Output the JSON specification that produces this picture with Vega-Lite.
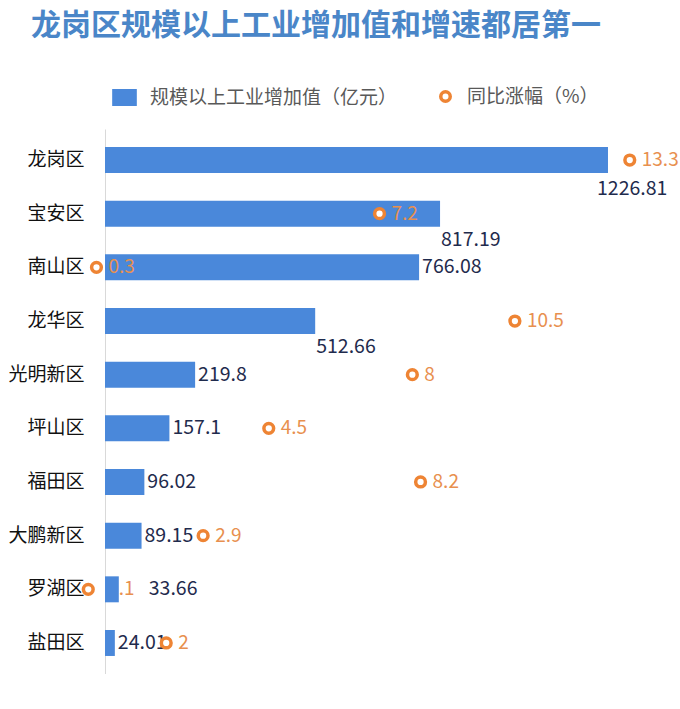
{
  "$schema": "https://vega.github.io/schema/vega-lite/v6.json",
  "width": 574,
  "height": 545,
  "padding": {"left": 7, "top": 11, "right": 0, "bottom": 0},
  "background": "white",
  "title": {
    "text": "龙岗区规模以上工业增加值和增速都居第一",
    "anchor": "start",
    "frame": "bounds",
    "dx": 23,
    "offset": 46,
    "font": "Noto Sans CJK SC",
    "fontSize": 30,
    "fontWeight": "bold",
    "color": "#4A86C8"
  },
  "data": {
    "values": [
      {"district": "龙岗区", "value": 1226.81, "growth": 13.3},
      {"district": "宝安区", "value": 817.19, "growth": 7.2},
      {"district": "南山区", "value": 766.08, "growth": 0.3},
      {"district": "龙华区", "value": 512.66, "growth": 10.5},
      {"district": "光明新区", "value": 219.8, "growth": 8},
      {"district": "坪山区", "value": 157.1, "growth": 4.5},
      {"district": "福田区", "value": 96.02, "growth": 8.2},
      {"district": "大鹏新区", "value": 89.15, "growth": 2.9},
      {"district": "罗湖区", "value": 33.66, "growth": 0.1},
      {"district": "盐田区", "value": 24.01, "growth": 2}
    ]
  },
  "encoding": {
    "y": {
      "field": "district",
      "type": "nominal",
      "sort": null,
      "scale": {
        "domain": ["龙岗区", "宝安区", "南山区", "龙华区", "光明新区", "坪山区", "福田区", "大鹏新区", "罗湖区", "盐田区"],
        "paddingInner": 0.516,
        "paddingOuter": 0.336
      },
      "axis": {
        "title": null,
        "ticks": false,
        "domain": true,
        "domainColor": "#d9d9d9",
        "labelFont": "Noto Sans CJK SC",
        "labelFontSize": 19,
        "labelColor": "#111111",
        "labelPadding": 21
      }
    }
  },
  "layer": [
    {
      "transform": [{"filter": "datum.district === '罗湖区'"}],
      "mark": {"type": "text", "align": "left", "baseline": "middle", "dx": 20, "font": "Noto Sans CJK SC", "fontSize": 19, "color": "#E8904F"},
      "encoding": {
        "x": {"field": "growth", "type": "quantitative", "scale": {"domain": [0.508, 14.5], "zero": false, "nice": false}, "axis": null},
        "text": {"field": "growth", "type": "quantitative"}
      }
    },
    {
      "mark": {"type": "bar", "color": "#4A88DA"},
      "encoding": {
        "x": {"field": "value", "type": "quantitative", "scale": {"domain": [0, 1400], "nice": false}, "axis": null},
        "color": {
          "datum": "规模以上工业增加值（亿元）",
          "scale": {"range": ["#4A88DA"]},
          "legend": {
            "title": null,
            "orient": "none",
            "legendX": 10,
            "legendY": -41,
            "symbolType": "M-1.45,-1H1.45V1H-1.45Z",
            "symbolSize": 289,
            "labelOffset": 16,
            "labelLimit": 0,
            "labelFont": "Noto Sans CJK SC",
            "labelFontSize": 19,
            "labelColor": "#595959"
          }
        }
      }
    },
    {
      "transform": [{"filter": "datum.value < 1000 && datum.district !== '宝安区' && datum.district !== '龙华区' && datum.district !== '罗湖区'"}],
      "mark": {"type": "text", "align": "left", "baseline": "middle", "dx": 3, "font": "Noto Sans CJK SC", "fontSize": 19.5, "color": "#1F2B4D"},
      "encoding": {
        "x": {"field": "value", "type": "quantitative", "scale": {"domain": [0, 1400], "nice": false}, "axis": null},
        "text": {"field": "value", "type": "quantitative", "format": ".2~f"}
      }
    },
    {
      "transform": [{"filter": "datum.district === '罗湖区'"}],
      "mark": {"type": "text", "align": "left", "baseline": "middle", "dx": 30, "font": "Noto Sans CJK SC", "fontSize": 19.5, "color": "#1F2B4D"},
      "encoding": {
        "x": {"field": "value", "type": "quantitative", "scale": {"domain": [0, 1400], "nice": false}, "axis": null},
        "text": {"field": "value", "type": "quantitative", "format": ".2~f"}
      }
    },
    {
      "transform": [{"filter": "datum.district === '宝安区' || datum.district === '龙华区'"}],
      "mark": {"type": "text", "align": "left", "baseline": "middle", "dx": 1, "dy": 26, "font": "Noto Sans CJK SC", "fontSize": 19.5, "color": "#1F2B4D"},
      "encoding": {
        "x": {"field": "value", "type": "quantitative", "scale": {"domain": [0, 1400], "nice": false}, "axis": null},
        "text": {"field": "value", "type": "quantitative", "format": ".2~f"}
      }
    },
    {
      "transform": [{"filter": "datum.value > 1000"}],
      "mark": {"type": "text", "align": "left", "baseline": "middle", "dx": -11, "dy": 29, "font": "Noto Sans CJK SC", "fontSize": 19.5, "color": "#1F2B4D"},
      "encoding": {
        "x": {"field": "value", "type": "quantitative", "scale": {"domain": [0, 1400], "nice": false}, "axis": null},
        "text": {"field": "value", "type": "quantitative", "format": ".2~f"}
      }
    },
    {
      "mark": {"type": "point", "shape": "circle", "filled": false, "fill": "white", "fillOpacity": 1, "strokeWidth": 3.5, "size": 95, "opacity": 1},
      "encoding": {
        "x": {"field": "growth", "type": "quantitative", "scale": {"domain": [0.508, 14.5], "zero": false, "nice": false}, "axis": null},
        "stroke": {
          "datum": "同比涨幅（%）",
          "scale": {"range": ["#EE8434"]},
          "legend": {
            "title": null,
            "orient": "none",
            "legendX": 331,
            "legendY": -42,
            "symbolType": "circle",
            "symbolSize": 90,
            "symbolStrokeWidth": 3.5,
            "symbolFillColor": "white",
            "labelOffset": 12,
            "labelLimit": 0,
            "labelFont": "Noto Sans CJK SC",
            "labelFontSize": 19,
            "labelColor": "#595959"
          }
        }
      }
    },
    {
      "transform": [{"filter": "datum.district !== '罗湖区'"}],
      "mark": {"type": "text", "align": "left", "baseline": "middle", "dx": 12, "font": "Noto Sans CJK SC", "fontSize": 19, "color": "#E8904F"},
      "encoding": {
        "x": {"field": "growth", "type": "quantitative", "scale": {"domain": [0.508, 14.5], "zero": false, "nice": false}, "axis": null},
        "text": {"field": "growth", "type": "quantitative"}
      }
    }
  ],
  "resolve": {"scale": {"x": "independent"}},
  "config": {"view": {"stroke": null}}
}
